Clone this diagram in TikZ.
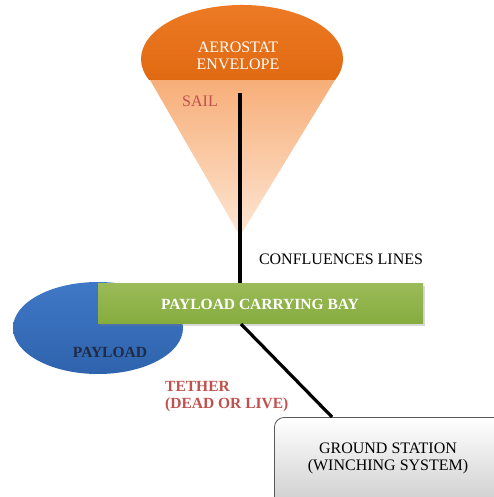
\documentclass[tikz,border=0pt]{standalone}
\usepackage{fontspec}
\setmainfont{Liberation Serif}
\usetikzlibrary{shadows}
\definecolor{envorange}{HTML}{EE7B26}
\definecolor{envdark}{HTML}{E06A12}
\definecolor{sailtop}{HTML}{F7AE78}
\definecolor{sailbot}{HTML}{FDE6D4}
\definecolor{baygreen}{HTML}{9BBB59}
\definecolor{baydark}{HTML}{86AC3E}
\definecolor{payblue}{HTML}{3F78C6}
\definecolor{paydark}{HTML}{2F63AD}
\definecolor{redtxt}{HTML}{C0504D}
\definecolor{navytxt}{HTML}{1F2A44}
\definecolor{gsborder}{HTML}{595959}
\tikzset{
  lbl/.style={font=\fontsize{16}{17}\selectfont, inner sep=0pt, align=center},
  blbl/.style={font=\fontsize{15.5}{17}\selectfont\bfseries, inner sep=0pt, align=center},
  conn/.style={draw=black, line width=3.2pt},
}
\begin{document}
\begin{tikzpicture}[x=1pt,y=-1pt]
\useasboundingbox (0,0) rectangle (494,497);
% sail cone
\path[top color=sailtop, bottom color=sailbot] (150,80) -- (335,80) -- (240,236) -- cycle;
% envelope cap
\path[top color=envorange, bottom color=envdark] (149,80) arc[start angle=202.9, end angle=-22.9, x radius=101pt, y radius=54pt] -- cycle;
% payload
\path[top color=payblue, bottom color=paydark] (98,328) ellipse[x radius=85pt, y radius=46pt];
% ground station
\begin{scope}
\clip (0,0) rectangle (494,497);
\node[draw=gsborder, line width=0.8pt, rounded corners=10pt, top color=white, bottom color=black!22,
  drop shadow={opacity=0.25, shadow xshift=2pt, shadow yshift=-2pt},
  minimum width=236pt, minimum height=100pt, anchor=north west] (gs) at (274,417) {};
\end{scope}
% payload carrying bay
\node[top color=baygreen, bottom color=baydark, minimum width=325pt, minimum height=40pt,
  drop shadow={opacity=0.3, shadow xshift=2pt, shadow yshift=-3pt},
  anchor=north west, inner sep=0pt] (bay) at (98,283) {};
% connectors
\coordinate (sailtopc) at (240,93);
\coordinate (baytop) at (bay.north -| sailtopc);
\coordinate (baybot) at (241,324);
\coordinate (gscorner) at (332,417);
\draw[conn] (sailtopc) -- (baytop);
\draw[conn] (baybot) -- (gscorner);
% texts
\node[lbl, text=white] (envtxt) at (238,56) {AEROSTAT\\ENVELOPE};
\node[lbl, text=redtxt] (sailtxt) at (200,101) {SAIL};
\node[lbl, text=black] (conftxt) at (341,259) {CONFLUENCES LINES};
\node[blbl, text=white] (baytxt) at (260,304) {PAYLOAD CARRYING BAY};
\node[blbl, text=navytxt] (paytxt) at (110,352) {PAYLOAD};
\node[blbl, text=redtxt, align=left, anchor=west] (tethtxt) at (165,397) {TETHER\\(DEAD OR LIVE)};
\node[lbl, text=black] (gstxt) at (388,458) {GROUND STATION\\(WINCHING SYSTEM)};
\end{tikzpicture}
\end{document}
